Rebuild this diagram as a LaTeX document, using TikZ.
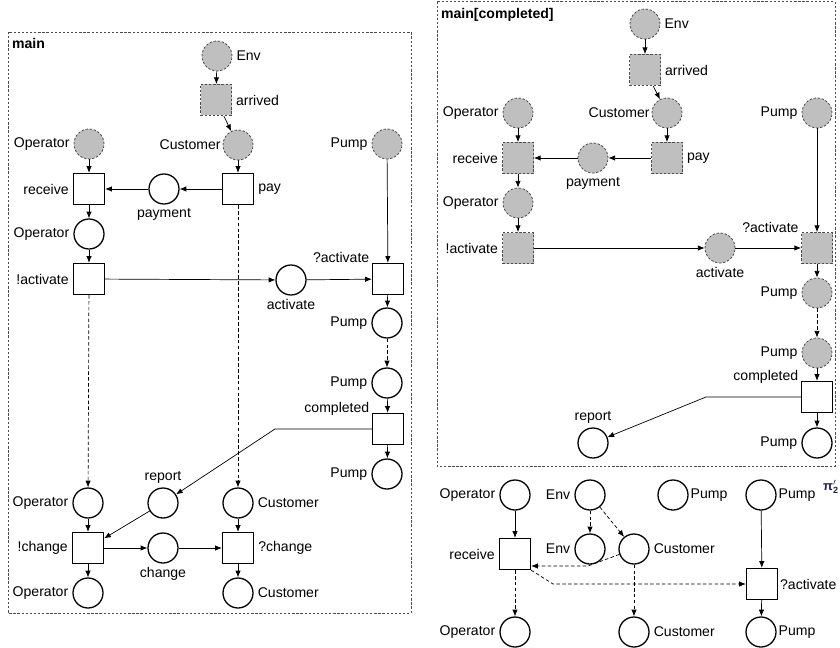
\documentclass[tikz,border=0pt]{standalone}
\usepackage{amsmath}
\usepackage{fontspec}
\setmainfont{Liberation Sans}
\usetikzlibrary{arrows.meta}
\definecolor{pinavy}{RGB}{30,30,80}

\begin{document}
\begin{tikzpicture}[x=0.03cm, y=-0.03cm, font=\fontsize{12}{14}\selectfont,
    pl/.style={circle, draw, line width=1.1pt, minimum size=0.9cm, inner sep=0pt},
    tr/.style={rectangle, draw, line width=1.1pt, minimum size=0.93cm, inner sep=0pt},
    gpl/.style={pl, fill=gray!50, draw=black!70, line width=0.7pt, dash pattern=on 2pt off 1.5pt},
    gtr/.style={tr, fill=gray!50, draw=black!70, line width=0.7pt, dash pattern=on 2pt off 1.5pt},
    flow/.style={-{Latex[length=2mm,width=1.6mm]}, line width=0.6pt},
    dflow/.style={flow, dash pattern=on 3pt off 2pt},
    panel/.style={draw=black!70, line width=0.7pt, dash pattern=on 2pt off 1.5pt},
    tl/.style={label={[anchor=base east, inner sep=2pt]north west:#1}}]

    \useasboundingbox (0,0) rectangle (840,648);

    % main
    \draw[panel] (8,32) rectangle (411,613);
    \node[anchor=west, font=\fontsize{12}{14}\selectfont\bfseries] (mainA) at (8,43) {main};

    \node[gpl, label=right:Env] (envA) at (217,56) {};
    \node[gtr, label=right:arrived] (arrA) at (216,100) {};
    \node[gpl, label=left:Operator] (opA) at (89,144) {};
    \node[gpl, label={[inner sep=1.5pt]left:Customer}] (custA) at (238,145) {};
    \node[gpl, label=left:Pump] (pumpA) at (387,144) {};
    \node[tr, label=left:receive] (recvA) at (89,189) {};
    \node[pl, label=below:payment] (paymA) at (164,189) {};
    \node[tr, label=right:pay] (payA) at (238,189) {};
    \node[pl, label=left:Operator] (op2A) at (89,234) {};
    \node[tr, label=left:!activate] (sendA) at (89,279) {};
    \node[pl, label=below:activate] (actA) at (291,280) {};
    \node[tr, tl=?activate] (recvActA) at (388,279) {};
    \node[pl, label=left:Pump] (pump2A) at (387,323) {};
    \node[pl, label=left:Pump] (pump3A) at (387,383) {};
    \node[tr, tl=completed] (compA) at (388,429) {};
    \node[pl, label=left:Pump] (pump4A) at (387,474) {};
    \node[pl, label=above:report] (repA) at (163,503) {};
    \node[pl, label=left:Operator] (op3A) at (88,503) {};
    \node[pl, label=right:Customer] (cust3A) at (238,503) {};
    \node[tr, label=left:!change] (chgOutA) at (88,548) {};
    \node[pl, label=below:change] (chgA) at (163,548) {};
    \node[tr, label=right:?change] (chgInA) at (238,548) {};
    \node[pl, label=left:Operator] (op4A) at (88,593) {};
    \node[pl, label=right:Customer] (cust4A) at (238,593) {};
    \coordinate (bendA) at (275,429);

    \draw[flow] (envA) -- (arrA);
    \draw[flow] (arrA) -- (custA);
    \draw[flow] (opA) -- (recvA);
    \draw[flow] (custA) -- (payA);
    \draw[flow] (payA) -- (paymA);
    \draw[flow] (paymA) -- (recvA);
    \draw[flow] (recvA) -- (op2A);
    \draw[flow] (op2A) -- (sendA);
    \draw[flow] (sendA) -- (actA);
    \draw[flow] (actA) -- (recvActA);
    \draw[flow] (pumpA) -- (recvActA);
    \draw[flow] (recvActA) -- (pump2A);
    \draw[dflow] (pump2A) -- (pump3A);
    \draw[flow] (pump3A) -- (compA);
    \draw[flow] (compA) -- (pump4A);
    \draw[flow] (compA.west) -- (bendA) -- (repA);
    \draw[dflow] (sendA) -- (op3A);
    \draw[dflow] (payA) -- (cust3A);
    \draw[flow] (op3A) -- (chgOutA);
    \draw[flow] (repA) -- (chgOutA);
    \draw[flow] (cust3A) -- (chgInA);
    \draw[flow] (chgOutA) -- (chgA);
    \draw[flow] (chgA) -- (chgInA);
    \draw[flow] (chgOutA) -- (op4A);
    \draw[flow] (chgInA) -- (cust4A);

    % main[completed]
    \draw[panel] (437,1.5) rectangle (835,466);
    \node[anchor=west, font=\fontsize{12}{14}\selectfont\bfseries] (mainB) at (437,15) {main[completed]};

    \node[gpl, label=right:Env] (envB) at (645,24) {};
    \node[gtr, label=right:arrived] (arrB) at (645,70) {};
    \node[gpl, label=left:Operator] (opB) at (518,113) {};
    \node[gpl, label={[inner sep=1.5pt]left:Customer}] (custB) at (667,113) {};
    \node[gpl, label=left:Pump] (pumpB) at (817,113) {};
    \node[gtr, label=left:receive] (recvB) at (518,158) {};
    \node[gpl, label=below:payment] (paymB) at (593,158) {};
    \node[gtr, label=right:pay] (payB) at (667,158) {};
    \node[gpl, label=left:Operator] (op2B) at (518,203) {};
    \node[gtr, label=left:!activate] (sendB) at (518,248) {};
    \node[gpl, label=below:activate] (actB) at (720,248) {};
    \node[gtr, tl=?activate] (recvActB) at (817,248) {};
    \node[gpl, label=left:Pump] (pump2B) at (817,293) {};
    \node[gpl, label=left:Pump] (pump3B) at (817,353) {};
    \node[tr, tl=completed] (compB) at (817,397) {};
    \node[pl, label=left:Pump] (pump4B) at (817,443) {};
    \node[pl, label=above:report] (repB) at (593,443) {};
    \coordinate (bendB) at (706,397);

    \draw[flow] (envB) -- (arrB);
    \draw[flow] (arrB) -- (custB);
    \draw[flow] (opB) -- (recvB);
    \draw[flow] (custB) -- (payB);
    \draw[flow] (payB) -- (paymB);
    \draw[flow] (paymB) -- (recvB);
    \draw[flow] (recvB) -- (op2B);
    \draw[flow] (op2B) -- (sendB);
    \draw[flow] (sendB) -- (actB);
    \draw[flow] (actB) -- (recvActB);
    \draw[flow] (pumpB) -- (recvActB);
    \draw[flow] (recvActB) -- (pump2B);
    \draw[dflow] (pump2B) -- (pump3B);
    \draw[flow] (pump3B) -- (compB);
    \draw[flow] (compB) -- (pump4B);
    \draw[flow] (compB.west) -- (bendB) -- (repB);

    % projection
    \node[pl, label=left:Operator] (opC) at (515,495) {};
    \node[pl, label=left:Env] (envC) at (590,495) {};
    \node[pl, label={[inner sep=1.5pt]right:Pump}] (pumpC) at (673,495) {};
    \node[pl, label={[inner sep=1.5pt]right:Pump}] (pump2C) at (761,495) {};
    \node[anchor=east, inner sep=1pt, text=pinavy, font=\fontsize{11}{13}\selectfont\bfseries] (piC) at (840,487) {π$_{\mathbf{2}}^{\prime}$};
    \node[tr, label=left:receive] (recvC) at (515,554) {};
    \node[pl, label=left:Env] (env2C) at (590,549) {};
    \node[pl, label=right:Customer] (custC) at (634,549) {};
    \node[tr, label={[inner sep=1.5pt]right:?activate}] (actC) at (762,584) {};
    \node[pl, label=left:Operator] (op2C) at (515,632) {};
    \node[pl, label=right:Customer] (cust2C) at (634,632) {};
    \node[pl, label={[inner sep=1.5pt]right:Pump}] (pump3C) at (761,632) {};
    \coordinate (bendC1) at (588,566);
    \coordinate (bendC2) at (553,584);

    \draw[flow] (opC) -- (recvC);
    \draw[dflow] (envC) -- (env2C);
    \draw[dflow] (envC) -- (custC);
    \draw[dflow] (custC) -- (bendC1) -- (recvC.east |- bendC1);
    \draw[dflow] (recvC.south east) -- (bendC2) -- (actC);
    \draw[dflow] (recvC) -- (op2C);
    \draw[dflow] (custC) -- (cust2C);
    \draw[flow] (pump2C) -- (actC);
    \draw[flow] (actC) -- (pump3C);

\end{tikzpicture}
\end{document}
